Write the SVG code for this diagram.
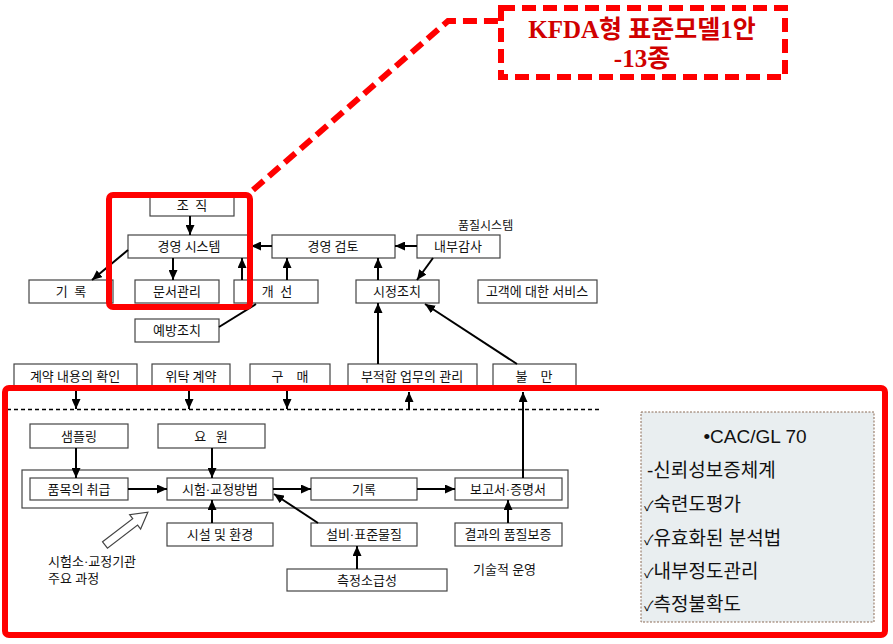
<svg xmlns="http://www.w3.org/2000/svg" width="893" height="644" viewBox="0 0 893 644">
<defs>
<marker id="ah" markerUnits="userSpaceOnUse" markerWidth="10" markerHeight="9" refX="10" refY="4.5" orient="auto">
<path d="M0,0 L10,4.5 L0,9 z" fill="#000"/>
</marker>
<style>
.n rect{fill:#fff;stroke:#444;stroke-width:1.2}
.n text,.lbl{font-family:"Liberation Serif","Noto Sans CJK KR",serif;font-size:13px;fill:#111;text-anchor:middle;white-space:pre}
.lbl{text-anchor:start}
.c path{fill:none;stroke:#000;stroke-width:2}
.c path.a{marker-end:url(#ah)}
.red{fill:none;stroke:#f00;stroke-width:6}
.rd{fill:none;stroke:#f00;stroke-width:6;stroke-dasharray:14 7}
.ct{font-family:"Liberation Serif","Noto Sans CJK KR",serif;font-size:25px;font-weight:bold;fill:#d00000;text-anchor:middle}
.bx{font-family:"Liberation Sans","Noto Sans CJK KR",sans-serif;font-size:19px;fill:#111}
.ck{font-size:14px}
</style>
</defs>
<rect width="893" height="644" fill="#fff"/>

<!-- nodes -->
<g id="n-jojik" class="n"><rect x="150" y="194" width="84" height="22"/><text x="192" y="210" xml:space="preserve">조  직</text></g>
<g id="n-gyeongyeong" class="n"><rect x="128" y="235" width="120" height="23"/><text x="189" y="251">경영 시스템</text></g>
<g id="n-girok1" class="n"><rect x="29" y="280" width="84" height="23"/><text x="71" y="296" xml:space="preserve">기  록</text></g>
<g id="n-munseo" class="n"><rect x="135" y="280" width="84" height="23"/><text x="177" y="296">문서관리</text></g>
<g id="n-gaeseon" class="n"><rect x="234" y="280" width="84" height="23"/><text x="277" y="296" xml:space="preserve">개  선</text></g>
<g id="n-yebang" class="n"><rect x="135" y="319" width="84" height="23"/><text x="177" y="335">예방조치</text></g>
<g id="n-geomto" class="n"><rect x="272" y="235" width="123" height="23"/><text x="333" y="251">경영 검토</text></g>
<g id="n-naebu" class="n"><rect x="417" y="235" width="83" height="23"/><text x="458" y="251">내부감사</text></g>
<text class="lbl" x="458" y="230" style="font-size:12px">품질시스템</text>
<g id="n-sijeong" class="n"><rect x="356" y="280" width="83" height="23"/><text x="397" y="296">시정조치</text></g>
<g id="n-gogaek" class="n"><rect x="478" y="280" width="119" height="23"/><text x="537" y="296">고객에 대한 서비스</text></g>

<g id="n-gyeyak" class="n"><rect x="14" y="364" width="123" height="26"/><text x="75" y="381">계약 내용의 확인</text></g>
<g id="n-witak" class="n"><rect x="152" y="364" width="78" height="26"/><text x="191" y="381">위탁 계약</text></g>
<g id="n-gumae" class="n"><rect x="250" y="364" width="80" height="26"/><text x="290" y="381" xml:space="preserve">구    매</text></g>
<g id="n-bujeok" class="n"><rect x="348" y="364" width="129" height="26"/><text x="412" y="381">부적합 업무의 관리</text></g>
<g id="n-bulman" class="n"><rect x="493" y="364" width="83" height="26"/><text x="534" y="381" xml:space="preserve">불    만</text></g>

<g id="n-container" class="n"><rect x="22" y="470" width="546" height="38"/></g>
<g id="n-saempling" class="n"><rect x="30" y="424" width="98" height="24"/><text x="79" y="441">샘플링</text></g>
<g id="n-yowon" class="n"><rect x="158" y="424" width="107" height="24"/><text x="211" y="441" xml:space="preserve">요   원</text></g>
<g id="n-pummok" class="n"><rect x="30" y="478" width="98" height="22"/><text x="79" y="494">품목의 취급</text></g>
<g id="n-siheom" class="n"><rect x="167" y="478" width="106" height="22"/><text x="220" y="494">시험·교정방법</text></g>
<g id="n-girok2" class="n"><rect x="311" y="478" width="106" height="22"/><text x="364" y="494">기록</text></g>
<g id="n-bogoseo" class="n"><rect x="455" y="478" width="107" height="22"/><text x="508" y="494">보고서·증명서</text></g>
<g id="n-siseol" class="n"><rect x="167" y="523" width="106" height="23"/><text x="220" y="539">시설 및 환경</text></g>
<g id="n-seolbi" class="n"><rect x="311" y="523" width="106" height="23"/><text x="364" y="539">설비·표준물질</text></g>
<g id="n-gyeolgwa" class="n"><rect x="455" y="523" width="107" height="23"/><text x="508" y="539">결과의 품질보증</text></g>
<g id="n-cheukjeong" class="n"><rect x="287" y="569" width="160" height="22"/><text x="367" y="585">측정소급성</text></g>
<text class="lbl" x="473" y="574">기술적 운영</text>
<text class="lbl" x="48" y="566">시험소·교정기관</text>
<text class="lbl" x="48" y="583">주요 과정</text>
<g id="hollow-arrow"><polygon transform="translate(105,545) rotate(-37.5)" points="0,-4 38,-4 38,-9 54,0 38,9 38,4 0,4" fill="#fff" stroke="#444" stroke-width="1.2"/></g>

<!-- connectors -->
<g id="connectors" class="c">
<path class="a" d="M190,216 V235"/>
<path class="a" d="M128,250 L92,280"/>
<path class="a" d="M173,258 V280"/>
<path class="a" d="M242,280 V258"/>
<path class="a" d="M272,246 H251"/>
<path class="a" d="M287,280 V258"/>
<path d="M219,327 L256,304"/>
<path class="a" d="M417,246 H395"/>
<path class="a" d="M433,258 L417,280"/>
<path class="a" d="M378,280 V258"/>
<path class="a" d="M378,364 V303"/>
<path class="a" d="M517,364 L425,304"/>
<path class="a" d="M76,391 V409"/>
<path class="a" d="M189,391 V409"/>
<path class="a" d="M287,391 V409"/>
<path class="a" d="M409,409 V392"/>
<path class="a" d="M523,478 V392"/>
<path class="a" d="M76,448 V478"/>
<path class="a" d="M212,448 V478"/>
<path class="a" d="M128,489 H167"/>
<path class="a" d="M273,489 H311"/>
<path class="a" d="M417,489 H455"/>
<path class="a" d="M212,523 V500"/>
<path class="a" d="M318,523 L274,494"/>
<path class="a" d="M357,569 V546"/>
<path class="a" d="M508,523 V500"/>
<path d="M7,409.5 H599" style="stroke-width:1.5;stroke-dasharray:4 3"/>
</g>

<!-- red highlights -->
<g id="highlight-upper"><rect class="red" x="109" y="195" width="141" height="112" rx="4"/></g>
<g id="highlight-lower"><rect class="red" x="5" y="388" width="880" height="247" rx="4"/></g>
<g id="callout">
<path class="rd" d="M253,190 L448,21 L498,21"/>
<rect class="rd" x="501" y="8" width="284" height="69"/>
<text class="ct" x="642" y="38">KFDA형 표준모델1안</text>
<text class="ct" x="642" y="67">-13종</text>
</g>

<g id="cac-box">
<rect x="641" y="412" width="233" height="210" fill="#e9eef0" stroke="#8b6a55" stroke-width="1" stroke-dasharray="2 1.5"/>
<text class="bx" x="755" y="443" text-anchor="middle">•CAC/GL 70</text>
<text class="bx" x="647" y="477">-신뢰성보증체계</text>
<text class="bx" x="644" y="511"><tspan class="ck">✓</tspan>숙련도평가</text>
<text class="bx" x="644" y="545"><tspan class="ck">✓</tspan>유효화된 분석법</text>
<text class="bx" x="644" y="578"><tspan class="ck">✓</tspan>내부정도관리</text>
<text class="bx" x="644" y="611"><tspan class="ck">✓</tspan>측정불확도</text>
</g>
</svg>
